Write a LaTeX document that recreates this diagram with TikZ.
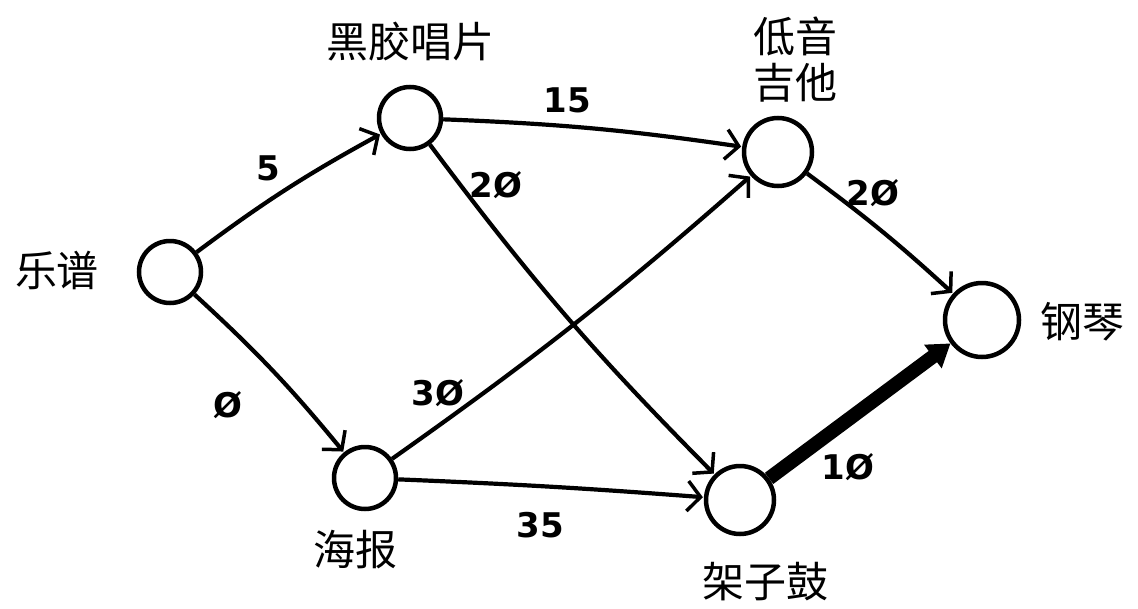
\documentclass[tikz,border=0pt]{standalone}
\usepackage{fontspec}
\newfontfamily\cjk{Noto Sans CJK SC}
\newfontfamily\numf{DejaVu Sans}
\usetikzlibrary{arrows.meta}
\tikzset{
  vert/.style={circle,draw,line width=4.5pt,minimum size=62pt,inner sep=0pt},
  lbl/.style={font=\cjk\fontsize{42}{50}\selectfont,inner sep=0pt,align=center},
  wt/.style={font=\numf\bfseries\fontsize{34}{36}\selectfont,inner sep=1pt},
  edge/.style={line width=4.2pt,-{Straight Barb[length=13pt,width=30pt,line width=3.5pt]},shorten >=1pt},
  heavy/.style={line width=14pt,-{Triangle[length=22pt,width=28pt]}}
}
\begin{document}
\begin{tikzpicture}[x=1pt,y=-1pt]
\useasboundingbox (0,0) rectangle (1138,608);
\node[vert] (a) at (170,272) {};
\node[vert] (b) at (410,118) {};
\node[vert,minimum size=68pt] (c) at (778,152) {};
\node[vert,minimum size=74pt] (d) at (982,320) {};
\node[vert] (e) at (365,478) {};
\node[vert,minimum size=68pt] (f) at (740,500) {};

\node[lbl] (la) at (57,270) {乐谱};
\node[lbl] (lb) at (410,42) {黑胶唱片};
\node[lbl] (lc) at (795,60) {低音\\[-4pt]吉他};
\node[lbl] (ld) at (1082,322) {钢琴};
\node[lbl] (le) at (355,550) {海报};
\node[lbl] (lf) at (765,582) {架子鼓};

\draw[edge] (a) to[bend left=4] (b);
\draw[edge] (a) to[bend left=4] (e);
\draw[edge] (b) to[bend left=3] (c);
\draw[edge] (b) to[bend right=4] (f);
\draw[edge] (e) to[bend right=3] (c);
\draw[edge] (e) to[bend left=1] (f);
\draw[edge] (c) to[bend left=3] (d);
\draw[heavy] (f) -- (d);

\node[wt] (w1) at (268,168) {5};
\node[wt] (w2) at (228,405) {Ø};
\node[wt] (w3) at (567,100) {15};
\node[wt] (w4) at (496,185) {2Ø};
\node[wt] (w5) at (438,393) {3Ø};
\node[wt] (w6) at (540,525) {35};
\node[wt] (w7) at (873,193) {2Ø};
\node[wt] (w8) at (848,467) {1Ø};
\end{tikzpicture}
\end{document}
